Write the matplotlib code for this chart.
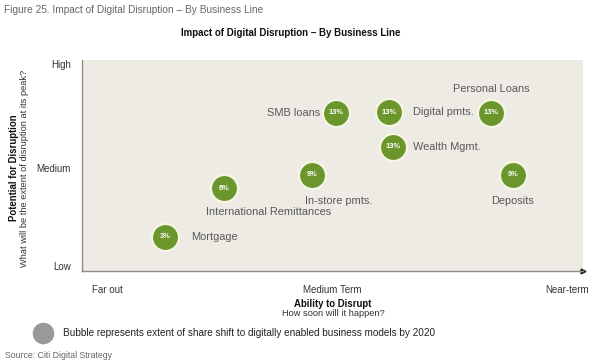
import matplotlib
matplotlib.use("Agg")
import matplotlib.pyplot as plt
from matplotlib import font_manager

# ---- data ----
businesses = ["Mortgage", "International Remittances", "In-store pmts.", "SMB loans",
              "Digital pmts.", "Wealth Mgmt.", "Personal Loans", "Deposits"]
ability = [16.6, 28.3, 45.9, 50.7, 61.3, 62.1, 81.6, 86.0]      # x: 0 = far out, 100 = near-term
potential = [16.3, 39.3, 45.5, 75.0, 75.2, 58.8, 75.0, 45.5]    # y: 0 = low, 100 = high
share_shift = ["3%", "6%", "9%", "13%", "13%", "13%", "13%", "9%"]

x_tick_pos = [5, 50, 96.8]
x_tick_labels = ["Far out", "Medium Term", "Near-term"]
y_tick_pos = [2.4, 48.8, 98]
y_tick_labels = ["Low", "Medium", "High"]

# label placement (offset in points, alignment)
label_style = {
    "Mortgage": ((19, 0), "left"),
    "International Remittances": ((32, -17), "center"),
    "In-store pmts.": ((19, -19), "center"),
    "SMB loans": ((-11, 0), "right"),
    "Digital pmts.": ((17, 0), "left"),
    "Wealth Mgmt.": ((14, 0), "left"),
    "Personal Loans": ((0, 17), "center"),
    "Deposits": ((0, -19), "center"),
}

avail = {f.name for f in font_manager.fontManager.ttflist}
base = "Liberation Sans" if "Liberation Sans" in avail else "DejaVu Sans"
narrow = "Liberation Sans Narrow" if "Liberation Sans Narrow" in avail else base
plt.rcParams["font.family"] = [base, "DejaVu Sans"]

fig = plt.figure(figsize=(6.0, 3.61), dpi=100)
fig.patch.set_facecolor("white")
ax = fig.add_axes([82 / 600, 90 / 361, 501 / 600, 211 / 361])
ax.set_facecolor("#EDEBE4")
ax.set_xlim(0, 100)
ax.set_ylim(0, 100)

for s in ["top", "right"]:
    ax.spines[s].set_visible(False)
for s in ["left", "bottom"]:
    ax.spines[s].set_color("#8C8C8C")
    ax.spines[s].set_linewidth(1.0)

ax.plot([0], [100], marker="^", color="#202020", markersize=3.5, transform=ax.transAxes, clip_on=False)
ax.plot([1], [0], marker=">", color="#202020", markersize=3.5, transform=ax.transAxes, clip_on=False)

ax.set_xticks(x_tick_pos)
ax.set_xticklabels(x_tick_labels, fontsize=7, color="#333333")
ax.set_yticks(y_tick_pos)
ax.set_yticklabels(y_tick_labels, fontsize=7, color="#333333")
ax.tick_params(axis="both", length=0)
ax.tick_params(axis="x", pad=10)
ax.tick_params(axis="y", pad=8)

ax.scatter(ability, potential, s=380, color="#6B962B", edgecolors="#F5F7E4",
           linewidths=1.6, zorder=3, clip_on=False)

for name, x, y, pct in zip(businesses, ability, potential, share_shift):
    ax.text(x, y, pct, ha="center", va="center", fontsize=5.4, color="white",
            fontweight="bold", zorder=4)
    (dx, dy), ha = label_style[name]
    ax.annotate(name, (x, y), xytext=(dx, dy), textcoords="offset points",
                ha=ha, va="center", fontsize=7.9, color="#595959", zorder=4)

# titles and axis descriptions
fig.text(4 / 600, 1 - 10 / 361, "Figure 25. Impact of Digital Disruption \u2013 By Business Line",
         family=narrow, fontsize=7.3, color="#666666", ha="left", va="center")
fig.text(291 / 600, 1 - 33 / 361, "Impact of Digital Disruption \u2013 By Business Line",
         fontsize=7, fontweight="bold", color="#111111", ha="center", va="center")

fig.text(14 / 600, 1 - 168 / 361, "Potential for Disruption", rotation=90,
         fontsize=6.9, fontweight="bold", color="#111111", ha="center", va="center")
fig.text(25 / 600, 1 - 168 / 361, "What will be the extent of disruption at its peak?", rotation=90,
         fontsize=6.7, color="#333333", ha="center", va="center")

fig.text(333 / 600, 1 - 304 / 361, "Ability to Disrupt",
         fontsize=6.9, fontweight="bold", color="#111111", ha="center", va="center")
fig.text(333 / 600, 1 - 314 / 361, "How soon will it happen?",
         fontsize=6.7, color="#333333", ha="center", va="center")

# bubble legend
fig.add_artist(plt.Line2D([43 / 600], [1 - 333 / 361], marker="o", markersize=14.5,
                          color="#999999", transform=fig.transFigure))
fig.text(63 / 600, 1 - 333 / 361,
         "Bubble represents extent of share shift to digitally enabled business models by 2020",
         fontsize=7.2, color="#222222", ha="left", va="center")

fig.text(5 / 600, 1 - 355 / 361, "Source: Citi Digital Strategy",
         family=narrow, fontsize=6.3, color="#666666", ha="left", va="center")

fig.savefig("out.png", dpi=100, facecolor="white")
